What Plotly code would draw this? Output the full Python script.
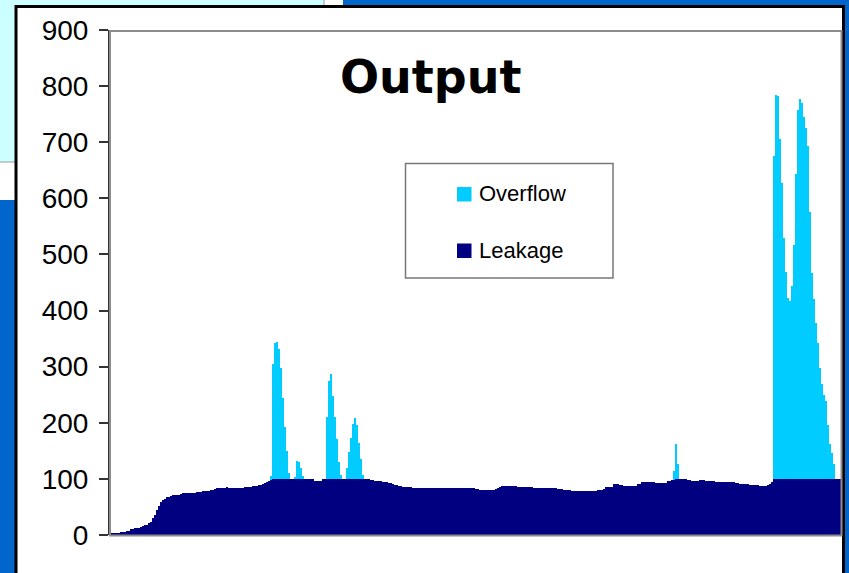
import plotly.graph_objects as go

# ---------------- data ----------------
days = list(range(1, 366))

leakage = [
    2, 3, 3, 4, 4, 5, 6, 6, 7, 7,
    10, 11, 12, 12, 13, 15, 16, 17, 18, 21,
    23, 30, 36, 45, 52, 58, 62, 65, 67, 68,
    70, 71, 71, 72, 72, 73, 74, 74, 75, 75,
    75, 75, 75, 76, 76, 77, 78, 78, 78, 79,
    80, 80, 82, 83, 83, 84, 84, 84, 85, 84,
    84, 84, 84, 83, 83, 84, 84, 85, 85, 86,
    86, 87, 87, 87, 89, 90, 91, 93, 95, 96,
    98, 100, 100, 100, 100, 100, 100, 100, 100, 100,
    100, 100, 100, 100, 100, 100, 100, 100, 100, 100,
    100, 100, 97, 97, 97, 97, 100, 100, 100, 100,
    100, 100, 100, 100, 100, 100, 100, 100, 100, 100,
    100, 100, 100, 100, 100, 100, 100, 100, 100, 100,
    98, 98, 97, 96, 96, 96, 95, 95, 94, 93,
    92, 91, 90, 89, 88, 87, 86, 86, 85, 85,
    85, 84, 84, 84, 84, 84, 84, 84, 84, 84,
    84, 84, 84, 84, 84, 84, 84, 84, 84, 84,
    84, 84, 84, 84, 84, 84, 84, 84, 84, 84,
    83, 83, 82, 82, 81, 81, 80, 80, 80, 80,
    80, 81, 82, 84, 86, 87, 88, 88, 88, 88,
    88, 87, 87, 86, 86, 85, 85, 85, 85, 85,
    85, 84, 84, 84, 84, 84, 84, 84, 84, 83,
    83, 83, 83, 82, 82, 82, 81, 81, 80, 80,
    79, 79, 79, 79, 79, 79, 79, 79, 79, 79,
    79, 79, 79, 80, 80, 80, 82, 86, 86, 86,
    86, 91, 91, 91, 89, 89, 87, 87, 87, 87,
    87, 87, 87, 91, 91, 94, 94, 94, 94, 94,
    94, 94, 93, 93, 93, 93, 93, 93, 96, 96,
    98, 98, 100, 100, 100, 100, 100, 100, 98, 98,
    96, 96, 96, 96, 98, 98, 98, 96, 96, 96,
    96, 96, 94, 94, 94, 94, 94, 94, 94, 94,
    94, 94, 93, 93, 91, 91, 91, 91, 91, 89,
    89, 89, 89, 89, 87, 87, 87, 87, 89, 91,
    94, 100, 100, 100, 100, 100, 100, 100, 100, 100,
    100, 100, 100, 100, 100, 100, 100, 100, 100, 100,
    100, 100, 100, 100, 100, 100, 100, 100, 100, 100,
    100, 100, 100, 100, 100,
]

# overflow events: (index of first day, values)
spike_a_start = 80
spike_a = [7, 205, 242, 244, 232, 198, 144, 93, 50, 11]
spike_b_start = 92
spike_b = [3, 32, 30, 20, 5]
spike_c_start = 108
spike_c = [110, 175, 187, 148, 110, 71, 30, 7]
spike_d_start = 118
spike_d = [20, 48, 73, 98, 109, 96, 64, 36, 7]
spike_e_start = 281
spike_e = [16, 62, 27]
spike_f_start = 331
spike_f = [576, 684, 682, 606, 528, 430, 369, 323, 317, 344,
           417, 544, 658, 677, 670, 645, 626, 593, 476, 367,
           321, 277, 242, 198, 169, 150, 139, 96, 62, 46, 27]

y_ticks = [0, 100, 200, 300, 400, 500, 600, 700, 800, 900]

overflow = [0] * len(days)
for start, vals in [(spike_a_start, spike_a), (spike_b_start, spike_b),
                    (spike_c_start, spike_c), (spike_d_start, spike_d),
                    (spike_e_start, spike_e), (spike_f_start, spike_f)]:
    for k, v in enumerate(vals):
        overflow[start + k] = v

assert len(leakage) == len(days)

# ---------------- layout geometry ----------------
W_FIG, H_FIG = 849, 573
L, R_PX, T, B_PX = 110, 841, 30, 535
PW, PH = R_PX - L, B_PX - T


def px(x):
    return (x - L) / PW


def py(y):
    return (B_PX - y) / PH


BLUE = "#0066CC"
CYAN_BG = "#CCFFFF"
OVER_C = "#00CCFF"
LEAK_C = "#000080"

fig = go.Figure()
fig.add_trace(go.Bar(x=days, y=leakage, name="Leakage", marker_color=LEAK_C,
                     marker_line_width=0, width=1, showlegend=False))
fig.add_trace(go.Bar(x=days, y=overflow, name="Overflow", marker_color=OVER_C,
                     marker_line_width=0, width=1, showlegend=False))

shapes = [
    # slide background pieces
    dict(type="rect", xref="paper", yref="paper", layer="below",
         x0=px(-5), x1=px(343), y0=py(-5), y1=py(200),
         fillcolor="white", line=dict(width=0)),
    dict(type="rect", xref="paper", yref="paper", layer="below",
         x0=px(-5), x1=px(324), y0=py(-5), y1=py(162),
         fillcolor=CYAN_BG, line=dict(width=1, color="#999999")),
    # chart frame
    dict(type="rect", xref="paper", yref="paper", layer="below",
         x0=px(16), x1=px(843.5), y0=py(6.5), y1=py(600),
         fillcolor="white", line=dict(width=3, color="black")),
    # plot-area border
    dict(type="rect", xref="paper", yref="paper", layer="above",
         x0=px(110), x1=px(841.5), y0=py(535.5), y1=py(31),
         fillcolor="rgba(0,0,0,0)", line=dict(width=2, color="#8c8c8c")),
    # legend box
    dict(type="rect", xref="paper", yref="paper", layer="above",
         x0=px(405.5), x1=px(613), y0=py(278), y1=py(163.5),
         fillcolor="white", line=dict(width=1.5, color="#777777")),
    dict(type="rect", xref="paper", yref="paper", layer="above",
         x0=px(457), x1=px(471.5), y0=py(201.5), y1=py(187),
         fillcolor=OVER_C, line=dict(width=0)),
    dict(type="rect", xref="paper", yref="paper", layer="above",
         x0=px(457), x1=px(471.5), y0=py(258), y1=py(243.5),
         fillcolor=LEAK_C, line=dict(width=0)),
]

annotations = [
    dict(text="<b>Output</b>", xref="paper", yref="paper",
         x=px(431), y=py(77), xanchor="center", yanchor="middle",
         showarrow=False, font=dict(family="DejaVu Sans", size=46, color="black")),
    dict(text="Overflow", xref="paper", yref="paper",
         x=px(476.5), y=py(193.5), xanchor="left", yanchor="middle",
         showarrow=False, font=dict(family="Liberation Sans, Arial", size=22, color="black")),
    dict(text="Leakage", xref="paper", yref="paper",
         x=px(476.5), y=py(250.5), xanchor="left", yanchor="middle",
         showarrow=False, font=dict(family="Liberation Sans, Arial", size=22, color="black")),
]

fig.update_layout(
    width=W_FIG, height=H_FIG,
    margin=dict(l=L, r=W_FIG - R_PX, t=T, b=H_FIG - B_PX, pad=0),
    paper_bgcolor=BLUE, plot_bgcolor="rgba(0,0,0,0)",
    barmode="stack", bargap=0,
    shapes=shapes, annotations=annotations,
    showlegend=False,
    xaxis=dict(range=[0.5, 365.5], showticklabels=False, ticks="",
               showgrid=False, zeroline=False, showline=False, fixedrange=True),
    yaxis=dict(range=[0, 900], tickvals=y_ticks, ticks="outside", ticklen=9,
               tickwidth=1.5, tickcolor="#333333", showgrid=False, zeroline=False,
               showline=True, linecolor="#333333", linewidth=2,
               ticklabelstandoff=5,
               tickfont=dict(family="Liberation Sans, Arial", size=28, color="black"),
               fixedrange=True),
    font=dict(family="Liberation Sans, Arial"),
)

fig.write_html("out.html", config={"displayModeBar": False},
               post_script="document.body.style.margin='0';document.body.style.padding='0';"
                           "document.documentElement.style.overflow='hidden';")
